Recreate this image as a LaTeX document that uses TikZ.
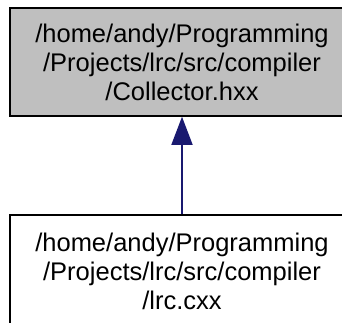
\documentclass[tikz,border=0pt]{standalone}
\usepackage{fontspec}
\setmainfont{Liberation Sans}
\usetikzlibrary{arrows.meta}
\definecolor{edgeblue}{HTML}{191970}
\definecolor{boxgray}{HTML}{BFBFBF}
\begin{document}
\begin{tikzpicture}[
        x=1pt, y=-1pt,
        filebox/.style={
            draw=black,
            line width=1.5pt,
            minimum width=344pt,
            minimum height=108pt,
            align=center,
            font=\fontsize{25.5}{29}\selectfont
        },
        incl/.style={
            draw=edgeblue,
            line width=1.5pt,
            -{Triangle[width=21pt,length=28pt]}
        }
    ]
    \useasboundingbox (0,0) rectangle (342,322);

    \node[
        filebox,
        fill=boxgray,
        name=collector
    ] at (182,62) {/home/andy/Programming\\/Projects/lrc/src/compiler\\/Collector.hxx};
    \node[
        filebox,
        fill=white,
        minimum height=112pt,
        name=lrc
    ] at (182,271) {/home/andy/Programming\\/Projects/lrc/src/compiler\\/lrc.cxx};

    \draw[incl] (lrc) -- (collector);
\end{tikzpicture}
\end{document}
